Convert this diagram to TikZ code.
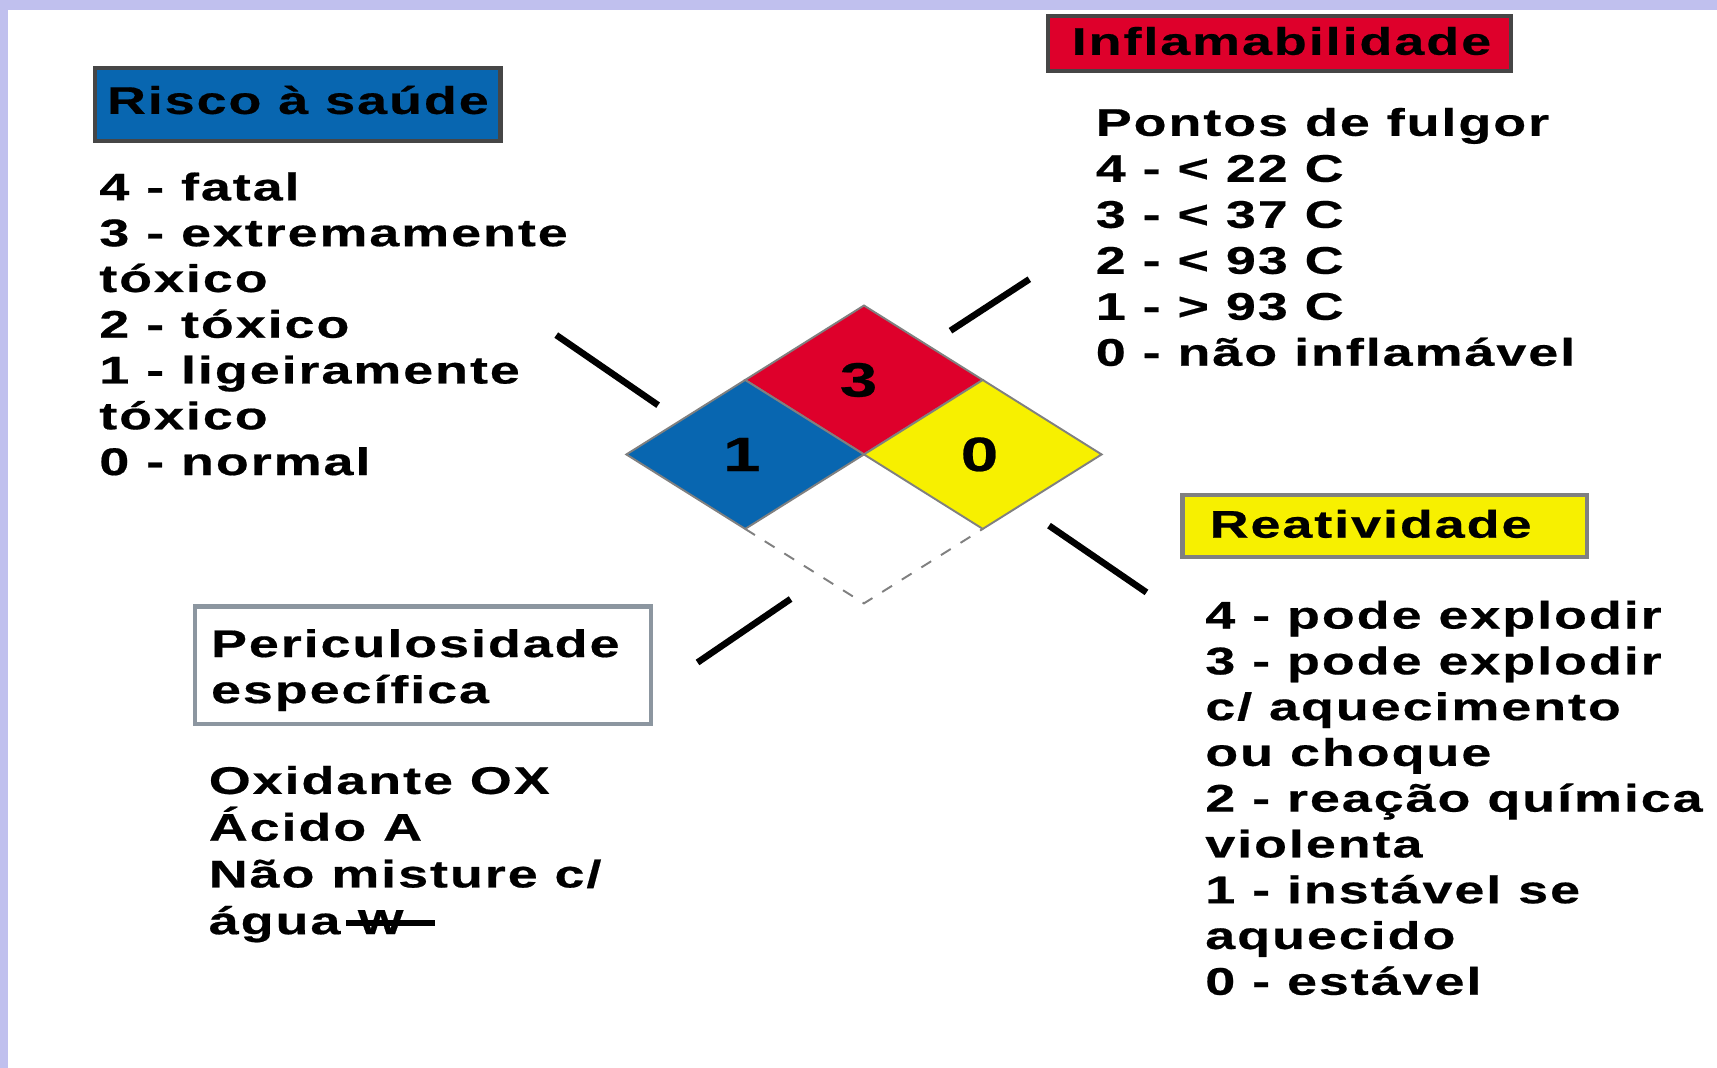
\documentclass[tikz,border=0pt]{standalone}
\usepackage{fontspec}
\usetikzlibrary{calc}
\newfontfamily\placafont{Liberation Sans Bold}[FakeStretch=1.4,LetterSpace=5,FakeBold=0.5]
\newcommand\placa{\placafont\fontsize{10}{12}\selectfont}
\newcommand\placanum{\placafont\fontsize{12.5}{14}\selectfont}
\definecolor{azul}{RGB}{8,102,176}
\definecolor{vermelho}{RGB}{222,0,43}
\definecolor{amarelo}{RGB}{247,240,0}
\definecolor{lavanda}{RGB}{192,192,238}
\definecolor{cinzaesc}{RGB}{70,70,70}
\definecolor{cinzaazul}{RGB}{140,150,160}

\begin{document}
\begin{tikzpicture}[x=0.01cm, y=-0.01cm,
	txt/.style={font=\placa, anchor=base west, inner sep=0pt},
	caixa/.style={draw=#1, line width=1.1pt, inner sep=0pt, anchor=north west},
	traco/.style={line width=1.7pt},
	quad/.style={draw=gray, line width=0.5pt},
	num/.style={font=\placanum, inner sep=0pt}]
	\useasboundingbox (0,0) rectangle (1568,975);
	\fill[white] (0,0) rectangle (1568,975);
	\fill[lavanda] (0,0) rectangle (1568,9);
	\fill[lavanda] (0,0) rectangle (7,975);

	% losango
	\coordinate (T) at (789,279);
	\coordinate (L) at (572,415);
	\coordinate (R) at (1006,415);
	\coordinate (B) at (789,551);
	\coordinate (C) at (789,415);
	\coordinate (TL) at ($(T)!0.5!(L)$);
	\coordinate (TR) at ($(T)!0.5!(R)$);
	\coordinate (BL) at ($(B)!0.5!(L)$);
	\coordinate (BR) at ($(B)!0.5!(R)$);
	\draw[quad, fill=vermelho] (T) -- (TR) -- (C) -- (TL) -- cycle;
	\draw[quad, fill=azul] (TL) -- (C) -- (BL) -- (L) -- cycle;
	\draw[quad, fill=amarelo] (TR) -- (R) -- (BR) -- (C) -- cycle;
	\draw[quad, dashed] (BL) -- (B) -- (BR);
	\node[num] (inflam) at ($(T)!0.5!(C)+(-5,0)$) {3};
	\node[num] (saude) at ($(L)!0.5!(C)+(-3,0)$) {1};
	\node[num] (reat) at ($(R)!0.5!(C)+(-3,0)$) {0};

	% tracos
	\coordinate (saudeA) at (508,306);
	\coordinate (saudeB) at (601,370);
	\coordinate (inflamA) at (868,302);
	\coordinate (inflamB) at (940,255);
	\coordinate (reatA) at (958,480);
	\coordinate (reatB) at (1047,541);
	\coordinate (especA) at (722,547);
	\coordinate (especB) at (637,605);
	\draw[traco] (saudeA) -- (saudeB);
	\draw[traco] (inflamA) -- (inflamB);
	\draw[traco] (reatA) -- (reatB);
	\draw[traco] (especA) -- (especB);

	% caixas
	\node[caixa=cinzaesc, fill=azul, minimum width=3.70cm, minimum height=0.67cm] (cxsaude) at (85,60) {};
	\node[caixa=cinzaesc, fill=vermelho, minimum width=4.23cm, minimum height=0.50cm] (cxinflam) at (955,13) {};
	\node[caixa=gray, fill=amarelo, minimum width=3.69cm, minimum height=0.57cm] (cxreat) at (1078,450) {};
	\node[caixa=cinzaazul, fill=white, minimum width=4.16cm, minimum height=1.07cm] (cxespec) at (176,552) {};
	\node[txt] (tsaude) at (97,104) {Risco à saúde};
	\node[txt] (tinflam) at (978,50) {Inflamabilidade};
	\node[txt] (treat) at (1104,491) {Reatividade};
	\node[txt] (tespec1) at (192,600) {Periculosidade};
	\node[txt] (tespec2) at (192,642) {específica};

	% listas
	\foreach \t [count=\i] in {4 - fatal, 3 - extremamente, tóxico, 2 - tóxico, 1 - ligeiramente, tóxico, 0 - normal}
		\node[txt] (lsaude\i) at (90,{183+41.8*(\i-1)}) {\t};
	\foreach \t [count=\i] in {Pontos de fulgor, 4 - < 22 C, 3 - < 37 C, 2 - < 93 C, 1 - > 93 C, 0 - não inflamável}
		\node[txt] (linflam\i) at (1000,{124+42*(\i-1)}) {\t};
	\foreach \t [count=\i] in {4 - pode explodir, 3 - pode explodir, c/ aquecimento, ou choque, 2 - reação química, violenta, 1 - instável se, aquecido, 0 - estável}
		\node[txt] (lreat\i) at (1100,{574+41.8*(\i-1)}) {\t};
	\foreach \t [count=\i] in {Oxidante OX, Ácido A, Não misture c/, água}
		\node[txt] (lespec\i) at (190,{725+42.7*(\i-1)}) {\t};
	\node[txt, font=\placafont\fontsize{9}{10}\selectfont] (sinalW) at (326,853) {W};
	\coordinate (riscoA) at (316,843);
	\coordinate (riscoB) at (397,843);
	\draw[line width=1.4pt] (riscoA) -- (riscoB);
\end{tikzpicture}
\end{document}
